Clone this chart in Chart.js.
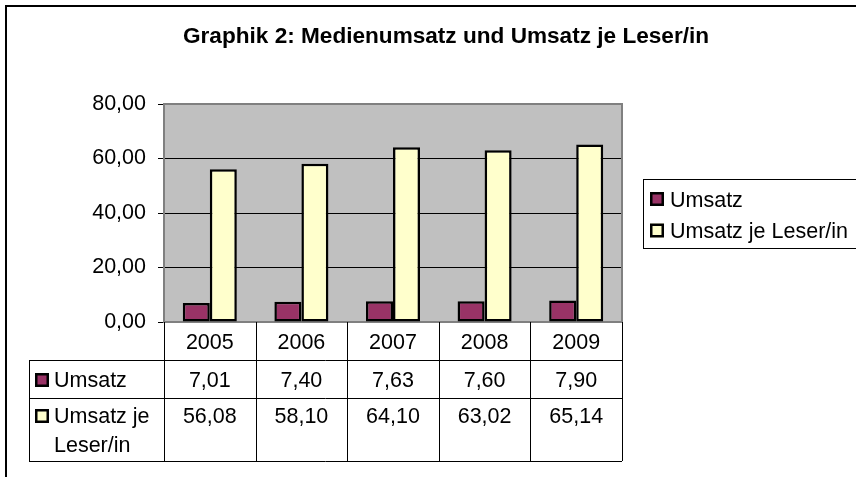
<!DOCTYPE html>
<html>
<head>
<meta charset="utf-8">
<title>Graphik 2</title>
<script src="https://cdn.jsdelivr.net/npm/chart.js@4"></script>
<style>
    html, body { margin: 0; padding: 0; background: #fff; }
    #wrap { width: 856px; height: 477px; }
</style>
</head>
<body>
<div id="wrap"><canvas id="chart" width="856" height="477"></canvas></div>
<script>
// Data
const years = ['2005', '2006', '2007', '2008', '2009'];
const umsatz = [7.01, 7.40, 7.63, 7.60, 7.90];
const umsatzJeLeser = [56.08, 58.10, 64.10, 63.02, 65.14];
const seriesNames = ['Umsatz', 'Umsatz je Leser/in'];
const tableRowLabels = [['Umsatz'], ['Umsatz je', 'Leser/in']];
const seriesColors = ['#993366', '#ffffcc'];
const yMin = 0;
const yMax = 80;
const yStep = 20;
const chartTitle = 'Graphik 2: Medienumsatz und Umsatz je Leser/in';

const FONT = 'Arial, "Liberation Sans", sans-serif';

function formatDe(v) {
    return v.toFixed(2).replace('.', ',');
}

function drawSwatch(ctx, x, y, color) {
    ctx.fillStyle = color;
    ctx.fillRect(x, y, 14, 14);
    ctx.strokeStyle = '#000';
    ctx.lineWidth = 2.5;
    ctx.strokeRect(x + 1.25, y + 1.25, 11.5, 11.5);
}

// Excel look: frame, grey plot area, legend box and data table
const excelPlugin = {
    id: 'excelLook',
    beforeDraw(chart) {
        const { ctx, chartArea: a } = chart;
        ctx.save();
        ctx.fillStyle = '#fff';
        ctx.fillRect(0, 0, chart.width, chart.height);
        ctx.strokeStyle = '#000';
        ctx.lineWidth = 2;
        ctx.beginPath();
        ctx.moveTo(6, chart.height);
        ctx.lineTo(6, 6);
        ctx.lineTo(chart.width, 6);
        ctx.stroke();
        ctx.fillStyle = '#c0c0c0';
        ctx.fillRect(a.left, a.top, a.right - a.left, a.bottom - a.top);
        ctx.restore();
    },
    beforeDatasetsDraw(chart) {
        const { ctx, chartArea: a } = chart;
        ctx.save();
        ctx.strokeStyle = '#808080';
        ctx.lineWidth = 2;
        ctx.strokeRect(a.left, a.top, a.right - a.left, a.bottom - a.top);
        ctx.restore();
    },
    afterDraw(chart) {
        const { ctx, chartArea: a } = chart;
        const xScale = chart.scales.x;
        const cw = (a.right - a.left) / years.length;
        ctx.save();

        // title
        ctx.fillStyle = '#000';
        ctx.font = 'bold 22.6px ' + FONT;
        ctx.textAlign = 'center';
        ctx.textBaseline = 'alphabetic';
        ctx.fillText(chartTitle, 446, 43);

        // legend
        ctx.strokeStyle = '#000';
        ctx.lineWidth = 1;
        ctx.strokeRect(643.5, 179.5, 240, 69);
        ctx.font = '21.5px ' + FONT;
        ctx.textAlign = 'left';
        chart.data.datasets.forEach((ds, i) => {
            const cy = 199 + i * 31.5;
            drawSwatch(ctx, 650, cy - 7, ds.backgroundColor);
            ctx.fillStyle = '#000';
            ctx.fillText(ds.label, 670, cy + 7.5);
        });

        // data table
        const headerBottom = 360;
        const row1Bottom = 398;
        const tableBottom = 461;
        const labelLeft = 29;
        ctx.strokeStyle = '#000';
        ctx.lineWidth = 1;
        ctx.beginPath();
        for (let i = 0; i <= years.length; i++) {
            const x = Math.round(a.left + i * cw) + 0.5;
            ctx.moveTo(x, a.bottom);
            ctx.lineTo(x, tableBottom);
        }
        ctx.moveTo(labelLeft + 0.5, headerBottom);
        ctx.lineTo(labelLeft + 0.5, tableBottom);
        [headerBottom, row1Bottom, tableBottom].forEach(y => {
            ctx.moveTo(labelLeft, y + 0.5);
            ctx.lineTo(a.right, y + 0.5);
        });
        ctx.stroke();

        ctx.fillStyle = '#000';
        ctx.textAlign = 'center';
        years.forEach((yr, i) => {
            const cx = xScale.getPixelForValue(i);
            ctx.fillText(yr, cx, 349);
        });
        const rowBaselines = [387, 423];
        chart.data.datasets.forEach((ds, r) => {
            ctx.textAlign = 'center';
            ctx.fillStyle = '#000';
            ds.data.forEach((v, i) => {
                ctx.fillText(formatDe(v), xScale.getPixelForValue(i), rowBaselines[r]);
            });
            drawSwatch(ctx, 35, rowBaselines[r] - 14, ds.backgroundColor);
            ctx.fillStyle = '#000';
            ctx.textAlign = 'left';
            tableRowLabels[r].forEach((line, k) => {
                ctx.fillText(line, 54, rowBaselines[r] + k * 29);
            });
        });

        ctx.restore();
    }
};

const ctx = document.getElementById('chart').getContext('2d');
new Chart(ctx, {
    type: 'bar',
    data: {
        labels: years,
        datasets: [{
            label: seriesNames[0],
            data: umsatz,
            backgroundColor: seriesColors[0],
            borderColor: '#000',
            borderWidth: 2.5,
            borderSkipped: false
        }, {
            label: seriesNames[1],
            data: umsatzJeLeser,
            backgroundColor: seriesColors[1],
            borderColor: '#000',
            borderWidth: 2.5,
            borderSkipped: false
        }]
    },
    options: {
        responsive: false,
        animation: false,
        devicePixelRatio: 1,
        layout: {
            padding: { top: 104, bottom: 155, left: 0, right: 234 }
        },
        datasets: {
            bar: {
                categoryPercentage: 0.59,
                barPercentage: 1
            }
        },
        plugins: {
            legend: { display: false },
            title: { display: false },
            tooltip: { enabled: false }
        },
        scales: {
            x: {
                display: false
            },
            y: {
                min: yMin,
                max: yMax,
                afterFit: scale => { scale.width = 164; },
                ticks: {
                    stepSize: yStep,
                    padding: 12,
                    color: '#000',
                    font: { family: FONT, size: 21.5 },
                    callback: v => formatDe(v)
                },
                grid: {
                    color: '#000',
                    lineWidth: 1,
                    tickLength: 6,
                    tickColor: '#000'
                },
                border: {
                    display: true,
                    color: '#808080',
                    width: 2
                }
            }
        }
    },
    plugins: [excelPlugin]
});
</script>
</body>
</html>
